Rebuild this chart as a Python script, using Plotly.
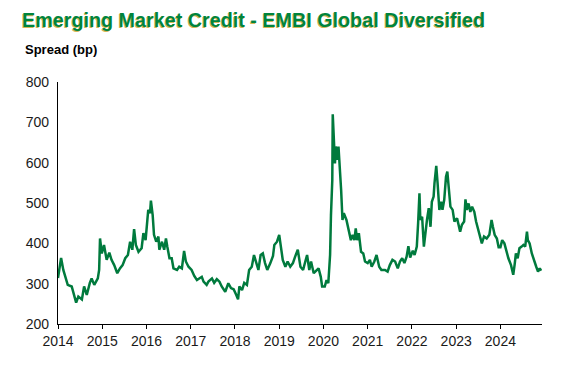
import plotly.graph_objects as go

# Decimal-year positions and spread values (bp)
years = [
    2014.00, 2014.04, 2014.07, 2014.12, 2014.17, 2014.22, 2014.31, 2014.35, 2014.41, 2014.46,
    2014.54, 2014.59, 2014.65, 2014.72, 2014.76, 2014.82, 2014.90, 2014.93, 2014.95, 2014.99,
    2015.04, 2015.10, 2015.16, 2015.21, 2015.27, 2015.34, 2015.40, 2015.46, 2015.52, 2015.58,
    2015.63, 2015.68, 2015.72, 2015.76, 2015.82, 2015.86, 2015.89, 2015.93, 2015.98,
    2016.02, 2016.04, 2016.08, 2016.10, 2016.14, 2016.17, 2016.22, 2016.27, 2016.29, 2016.35,
    2016.40, 2016.44, 2016.47, 2016.52, 2016.57, 2016.61, 2016.69, 2016.74, 2016.80, 2016.85,
    2016.89, 2016.95, 2017.02, 2017.08, 2017.14, 2017.20, 2017.25, 2017.29, 2017.36, 2017.40,
    2017.48, 2017.53, 2017.59, 2017.65, 2017.70, 2017.78, 2017.85, 2017.91, 2017.97, 2018.03,
    2018.07, 2018.10, 2018.16, 2018.21, 2018.27, 2018.32, 2018.38, 2018.43, 2018.48, 2018.53,
    2018.58, 2018.63, 2018.68, 2018.73, 2018.80, 2018.86, 2018.89, 2018.95, 2019.00, 2019.04,
    2019.08, 2019.14, 2019.19, 2019.25, 2019.31, 2019.36, 2019.42, 2019.48, 2019.54, 2019.59,
    2019.63, 2019.68, 2019.72, 2019.78, 2019.84, 2019.89, 2019.94, 2019.97, 2020.03, 2020.07,
    2020.11, 2020.15, 2020.17, 2020.20, 2020.21, 2020.24, 2020.26, 2020.28, 2020.32, 2020.34,
    2020.36, 2020.40, 2020.43, 2020.46, 2020.52, 2020.58, 2020.62, 2020.66, 2020.70, 2020.73,
    2020.76, 2020.80, 2020.85, 2020.90, 2020.94, 2021.00, 2021.05, 2021.09, 2021.15, 2021.20,
    2021.26, 2021.31, 2021.39, 2021.45, 2021.50, 2021.56, 2021.62, 2021.68, 2021.73, 2021.78,
    2021.83, 2021.88, 2021.92, 2021.96, 2022.02, 2022.06, 2022.11, 2022.14, 2022.17, 2022.19,
    2022.23, 2022.27, 2022.30, 2022.34, 2022.38, 2022.42, 2022.45, 2022.49, 2022.51, 2022.55,
    2022.58, 2022.62, 2022.66, 2022.69, 2022.73, 2022.77, 2022.80, 2022.83, 2022.87, 2022.92,
    2022.96, 2023.02, 2023.06, 2023.09, 2023.13, 2023.18, 2023.21, 2023.24, 2023.28, 2023.32,
    2023.36, 2023.41, 2023.45, 2023.49, 2023.54, 2023.58, 2023.63, 2023.69, 2023.75, 2023.80,
    2023.83, 2023.87, 2023.92, 2023.96, 2024.00, 2024.04, 2024.09, 2024.14, 2024.18, 2024.24,
    2024.29, 2024.32, 2024.35, 2024.39, 2024.43, 2024.48, 2024.52, 2024.56, 2024.60, 2024.62,
    2024.66, 2024.71, 2024.77, 2024.81, 2024.85, 2024.89, 2024.92,
]
spread = [
    314, 340, 364, 334, 317, 297, 293, 277, 253, 268,
    261, 293, 272, 302, 313, 297, 313, 334, 412, 375,
    396, 359, 377, 359, 346, 326, 338, 346, 363, 371,
    404, 384, 435, 396, 379, 384, 388, 425, 408,
    458, 483, 475, 506, 470, 421, 404, 417, 384, 404,
    384, 412, 392, 363, 363, 338, 334, 342, 338, 381,
    355, 342, 334, 319, 309, 313, 317, 305, 297, 305,
    313, 302, 311, 305, 293, 280, 301, 289, 286, 272,
    261, 293, 284, 302, 297, 334, 342, 371, 351, 334,
    371, 375, 351, 334, 351, 369, 396, 404, 421, 388,
    359, 342, 355, 342, 351, 367, 384, 342, 334, 355,
    371, 334, 355, 326, 334, 338, 317, 293, 293, 309,
    301, 371, 470, 557, 720, 648, 598, 640, 607, 640,
    590, 532, 458, 475, 458, 425, 408, 421, 408, 437,
    408, 425, 379, 375, 355, 351, 359, 342, 355, 371,
    342, 334, 334, 330, 346, 359, 355, 338, 355, 363,
    351, 367, 393, 365, 382, 371, 392, 450, 524, 458,
    466, 392, 425, 458, 487, 441, 503, 516, 549, 592,
    549, 483, 503, 483, 508, 565, 578, 541, 491, 483,
    454, 462, 446, 429, 446, 454, 509, 483, 499, 478,
    491, 478, 454, 437, 421, 400, 417, 412, 421, 458,
    441, 421, 412, 390, 390, 408, 400, 375, 363, 346,
    322, 346, 375, 363, 388, 392, 396, 392, 429, 408,
    400, 375, 351, 342, 330, 338, 332,
]
year_ticks = [2014, 2015, 2016, 2017, 2018, 2019, 2020, 2021, 2022, 2023, 2024]
y_ticks = [200, 300, 400, 500, 600, 700, 800]

GREEN = "#007A3D"

# The page body has an 8px default margin, so the figure is 8px smaller
W, H = 555, 368
L, R, T, B = 50, 21, 74, 52
PW, PH = W - L - R, H - T - B

fig = go.Figure()
fig.add_trace(go.Scatter(
    x=years, y=spread, mode="lines",
    line=dict(color=GREEN, width=2.5),
    hoverinfo="skip", showlegend=False,
))

fig.update_layout(
    width=W, height=H,
    margin=dict(l=L, r=R, t=T, b=B),
    paper_bgcolor="white", plot_bgcolor="white",
    font=dict(family="Liberation Sans, Arial, sans-serif", size=14, color="#1a1a1a"),
    title=dict(
        text="<b>Emerging Market Credit - EMBI Global Diversified</b>",
        font=dict(family="Liberation Sans, Arial, sans-serif",
                  size=19.75, color="#00843D", shadow="-0.7px 0.7px 0px rgba(201,162,39,0.8)"),
        xref="container", yref="container",
        x=14 / W, xanchor="left",
        y=1 - 12 / H, yanchor="middle",
    ),
    annotations=[dict(
        text="<b>Spread (bp)</b>", xref="paper", yref="paper",
        x=(15 - L) / PW, y=1 + (T - 41) / PH,
        xanchor="left", yanchor="middle", showarrow=False,
        font=dict(family="Liberation Sans, Arial, sans-serif", size=13, color="black"),
    )],
    xaxis=dict(
        range=[2014, 2024.94], tickmode="array", tickvals=year_ticks,
        ticktext=[str(v) for v in year_ticks],
        showgrid=False, zeroline=False, showline=True, linecolor="black", linewidth=1.3,
        ticks="outside", ticklen=4, tickcolor="black", tickwidth=1,
    ),
    yaxis=dict(
        range=[200, 800], tickmode="array", tickvals=y_ticks,
        showgrid=False, zeroline=False, showline=True, linecolor="black", linewidth=1.3,
        ticks="", ticklabelstandoff=5,
    ),
)

fig.write_html("out.html")
